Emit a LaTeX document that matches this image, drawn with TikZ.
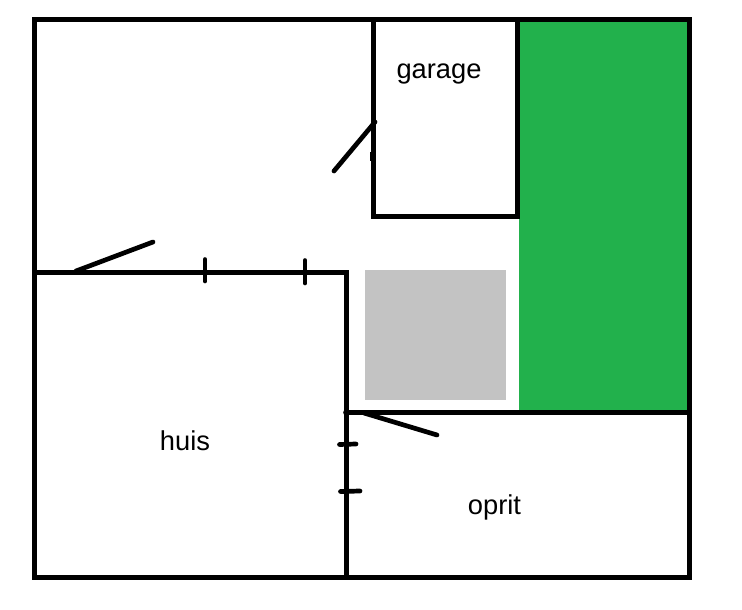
\documentclass[tikz,border=0pt]{standalone}
\usepackage{fontspec}
\setmainfont{Liberation Sans}
\definecolor{lawn}{RGB}{34,177,76}
\definecolor{yard}{RGB}{195,195,195}
\tikzset{
  wall/.style={draw=black,line width=5pt,line cap=rect},
  door/.style={draw=black,line width=4.7pt,line cap=round},
  tick/.style={draw=black,line width=4.7pt,line cap=round},
  label/.style={font=\fontsize{27.3}{32}\selectfont,text=black,inner sep=0pt,anchor=base}
}
\begin{document}
\begin{tikzpicture}[x=1pt,y=-1pt]
\useasboundingbox[fill=white] (0,0) rectangle (742,610);
\fill[lawn] (519,19.5) rectangle (689.5,412.5);
\fill[yard] (365,270) rectangle (506,400);
\draw[wall] (34.5,19.5) rectangle (689.5,577.5);
\draw[wall] (373.5,19.5) -- (373.5,216.5) -- (517.5,216.5) -- (517.5,19.5);
\draw[wall] (34.5,272.5) -- (346.7,272.5) -- (346.7,577.5);
\draw[door] (345.5,412.5) -- (689.5,412.5);
\fill[black] (370,152) rectangle (372,161);
\draw[door] (334,171) -- (375,122);
\draw[door] (76,271) -- (153,242);
\draw[door] (364,413) -- (437,435);
\draw[tick] (205,259.5) -- (205,281);
\draw[tick] (305,260.5) -- (305,283);
\draw[tick] (339.5,444.5) -- (356,444);
\draw[tick] (340.5,491.5) -- (360,491);
\node[label] (garage) at (439,78.5) {garage};
\node[label] (huis) at (185,450) {huis};
\node[label] (oprit) at (494.5,514) {oprit};
\end{tikzpicture}
\end{document}
